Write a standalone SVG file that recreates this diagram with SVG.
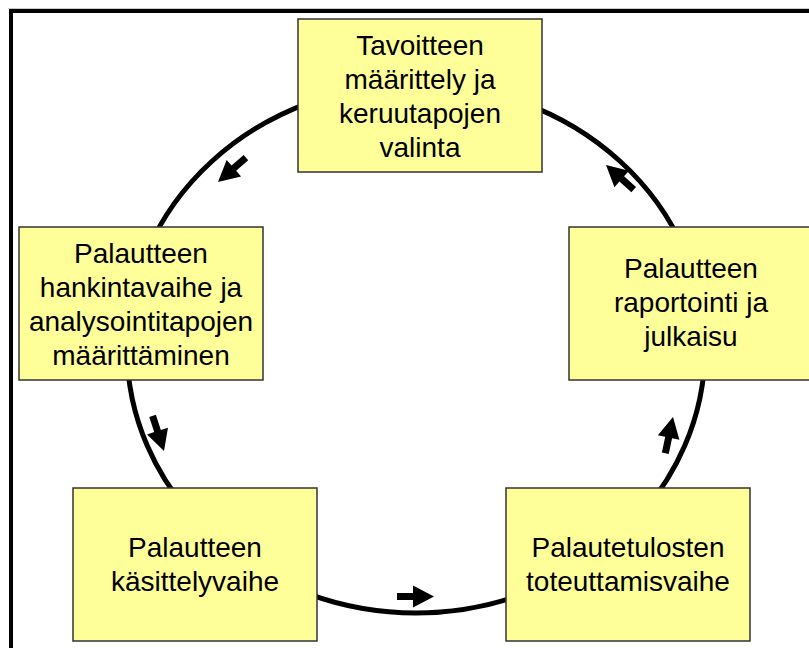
<svg xmlns="http://www.w3.org/2000/svg" width="809" height="648" viewBox="0 0 809 648">
  <style>
    .box { fill: #FFFF99; stroke: #333333; stroke-width: 1.5; }
    .lbl { font-family: "Liberation Sans", Arial, sans-serif; font-size: 28px; fill: #000000; text-anchor: middle; }
    .cycle { fill: none; stroke: #000000; stroke-width: 5; }
    .arrow { fill: #000000; }
  </style>
  <defs>
    <!-- block arrow pointing along +x, tip at the origin -->
    <polygon id="blockArrow" points="0,0 -21,-11 -21,-3.5 -37,-3.5 -37,3.5 -21,3.5 -21,11"/>
  </defs>

  <rect x="0" y="0" width="809" height="648" fill="#ffffff"/>
  <!-- frame -->
  <path d="M8,8.5 H809" stroke="#c8c8c8" stroke-width="1" fill="none"/>
  <path d="M11,648 V11 H809" stroke="#000000" stroke-width="4" fill="none"/>

  <!-- connectors: the cycle ring and its direction arrows -->
  <g id="connectors">
    <ellipse class="cycle" cx="416" cy="348.5" rx="289" ry="264.5"/>
    <use href="#blockArrow" class="arrow" transform="translate(218,182) rotate(139)"/>
    <use href="#blockArrow" class="arrow" transform="translate(164,451) rotate(72)"/>
    <use href="#blockArrow" class="arrow" transform="translate(434,596.5)"/>
    <use href="#blockArrow" class="arrow" transform="translate(673,417) rotate(-78)"/>
    <use href="#blockArrow" class="arrow" transform="translate(606,165) rotate(221.5)"/>
  </g>

  <g id="node-tavoite">
    <rect class="box" x="298" y="19" width="244" height="153"/>
    <text class="lbl" x="420" y="55">Tavoitteen</text>
    <text class="lbl" x="420" y="89">määrittely ja</text>
    <text class="lbl" x="420" y="123">keruutapojen</text>
    <text class="lbl" x="420" y="157">valinta</text>
  </g>

  <g id="node-hankinta">
    <rect class="box" x="19" y="227" width="244" height="153"/>
    <text class="lbl" x="141" y="263">Palautteen</text>
    <text class="lbl" x="141" y="297">hankintavaihe ja</text>
    <text class="lbl" x="141" y="331">analysointitapojen</text>
    <text class="lbl" x="141" y="365">määrittäminen</text>
  </g>

  <g id="node-raportointi">
    <rect class="box" x="569" y="227" width="244" height="153"/>
    <text class="lbl" x="691" y="278">Palautteen</text>
    <text class="lbl" x="691" y="312">raportointi ja</text>
    <text class="lbl" x="691" y="346">julkaisu</text>
  </g>

  <g id="node-kasittely">
    <rect class="box" x="73" y="488" width="244" height="153"/>
    <text class="lbl" x="195" y="557">Palautteen</text>
    <text class="lbl" x="195" y="591">käsittelyvaihe</text>
  </g>

  <g id="node-toteutus">
    <rect class="box" x="506" y="488" width="244" height="153"/>
    <text class="lbl" x="628" y="557">Palautetulosten</text>
    <text class="lbl" x="628" y="591">toteuttamisvaihe</text>
  </g>
</svg>
